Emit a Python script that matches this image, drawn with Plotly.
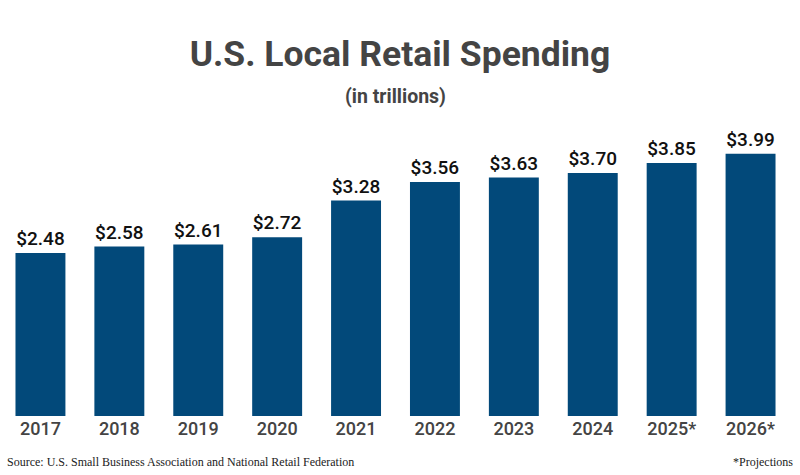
import plotly.graph_objects as go

years = ["2017", "2018", "2019", "2020", "2021", "2022", "2023", "2024", "2025*", "2026*"]
spending = [2.48, 2.58, 2.61, 2.72, 3.28, 3.56, 3.63, 3.70, 3.85, 3.99]
labels = [f"${v:.2f}" for v in spending]

fig = go.Figure(go.Bar(
    x=years, y=spending, text=labels, textposition="outside",
    textfont=dict(family="Roboto Medium, Roboto", size=19, color="#111111"),
    marker=dict(color="#02497A", line=dict(width=0)),
    cliponaxis=False,
))

fig.update_layout(
    width=800, height=475,
    margin=dict(l=1, r=10, t=100, b=59),
    paper_bgcolor="white", plot_bgcolor="white",
    bargap=0.367,
    showlegend=False,
    xaxis=dict(showgrid=False, showline=False, ticks="", zeroline=False,
               tickfont=dict(family="Roboto Medium, Roboto", size=18, color="#444444")),
    yaxis=dict(visible=False, range=[0, 4.81]),
    title=dict(text="<b>U.S. Local Retail Spending</b>", x=0.5, xanchor="center",
               y=1 - 54 / 475, yanchor="middle", yref="container",
               font=dict(family="Roboto", size=35.5, color="#444444")),
)
fig.add_annotation(text="<b>(in trillions)</b>", xref="paper", yref="paper",
                   x=0.5, y=1 + (100 - 97) / 316, yanchor="middle", xanchor="center",
                   showarrow=False, font=dict(family="Roboto", size=19.5, color="#444444"))
fig.add_annotation(text="Source: U.S. Small Business Association and National Retail Federation",
                   xref="paper", yref="paper", x=4 / 789, xanchor="left",
                   y=-(462 - 416) / 316, yanchor="middle", showarrow=False,
                   font=dict(family="Liberation Serif", size=12, color="#222222"))
fig.add_annotation(text="*Projections",
                   xref="paper", yref="paper", x=(795 - 1) / 789, xanchor="right",
                   y=-(462 - 416) / 316, yanchor="middle", showarrow=False,
                   font=dict(family="Liberation Serif", size=12, color="#222222"))

fig.write_html("out.html")
